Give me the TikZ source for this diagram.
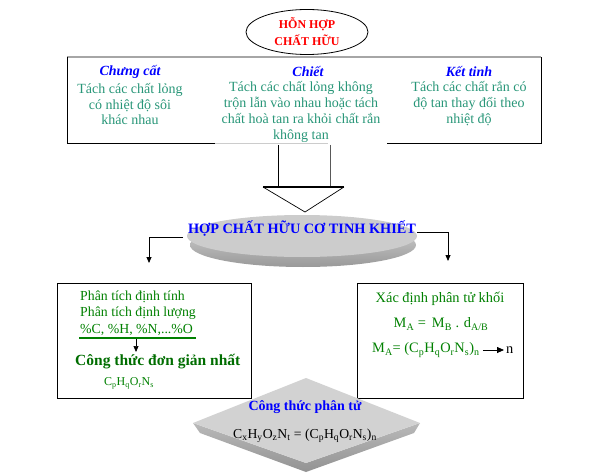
\documentclass[tikz,border=0pt]{standalone}
\usepackage{fontspec}
\setmainfont{Liberation Serif}
\usetikzlibrary{arrows.meta,shapes.geometric}
\definecolor{tealg}{RGB}{40,150,120}
\definecolor{dgreen}{RGB}{0,128,0}
\definecolor{hblue}{RGB}{0,0,255}
\definecolor{hred}{RGB}{255,0,0}
\tikzset{
  body/.style={font=\fontsize{14}{16}\selectfont, text=tealg, align=center, inner sep=0pt},
  headtxt/.style={font=\fontsize{14}{15}\selectfont\bfseries\itshape, text=hblue, inner sep=0pt},
  gtxt/.style={font=\fontsize{13.8}{15}\selectfont, text=dgreen, inner sep=0pt},
  rtxt/.style={font=\fontsize{14.4}{15}\selectfont, text=dgreen, inner sep=0pt},
  conn/.style={-{Triangle[length=6pt,width=5pt]}, line width=0.8pt},
  frame/.style={line width=1pt, black},
}
\begin{document}
\begin{tikzpicture}[x=1pt,y=-1pt]
\useasboundingbox (0,0) rectangle (605,476);
% top ellipse
\node[draw, ellipse, line width=0.8pt, minimum width=122pt, minimum height=45pt, inner sep=0pt,
  font=\fontsize{12}{17}\selectfont\bfseries, text=hred, align=center] (mix) at (307,32) {HỖN HỢP\\CHẤT HỮU};
% top frame
\draw[line width=1.6pt, gray!70] (67,57) -- (541,57);
\draw[frame] (67,57) -- (67,144) -- (215,144);
\draw[line width=1pt, gray!40] (215,144) -- (328,144);
\draw[frame] (387,144) -- (541,144) -- (541,57);
% headings
\node[headtxt] (h1) at (130,72) {Chưng cất};
\node[headtxt] (h2) at (308,72) {Chiết};
\node[headtxt] (h3) at (469,72) {Kết tinh};
\node[body] (b1) at (130,104) {Tách các chất lỏng\\có nhiệt độ sôi\\khác nhau};
\node[body] (b2) at (301,112) {Tách các chất lỏng không\\trộn lẫn vào nhau hoặc tách\\chất hoà tan ra khỏi chất rắn\\không tan};
\node[body] (b3) at (469,104) {Tách các chất rắn có\\độ tan thay đổi theo\\nhiệt độ};
% big hollow arrow
\coordinate (sl) at (278,145);
\coordinate (sr) at (330,145);
\coordinate (hl) at (263,187);
\coordinate (hr) at (344,187);
\coordinate (tip) at (305,212);
\draw[line width=1pt] (sl) -- (sl|-hl);
\draw[line width=1pt, gray!70!black] (sr) -- (sr|-hr);
\draw[line width=0.7pt] (hl) -- (tip) -- (hr);
\draw[line width=1.5pt] (hl) -- (hr);
% gray disc
\shade[top color=gray!35, bottom color=gray!80] (303,245) ellipse [x radius=113, y radius=22];
\fill[gray!40] (302,236) ellipse [x radius=115, y radius=21];
\node[font=\fontsize{14.3}{16}\selectfont\bfseries, text=hblue, inner sep=0pt] (pure) at (302,229) {HỢP CHẤT HỮU CƠ TINH KHIẾT};
% side arrows
\coordinate (la) at (183,237);
\coordinate (ra) at (417,232);
\coordinate (lt) at (149,263);
\coordinate (rt) at (448,261);
\draw[conn] (la) -- (la-|lt) -- (lt);
\draw[conn] (ra) -- (ra-|rt) -- (rt);
% left lower box
\draw[line width=0.9pt] (57,283) rectangle (251,398);
\node[gtxt, anchor=west] (p1) at (80,297) {Phân tích định tính};
\node[gtxt, anchor=west] (p2) at (80,313) {Phân tích định lượng};
\node[gtxt, anchor=west] (p3) at (80,330) {\%C, \%H, \%N,...\%O};
\draw[dgreen, line width=1.3pt] (79,338) -- (196,338);
\coordinate (a1) at (136,339);
\coordinate (a2) at (136,352);
\draw[conn, line width=0.7pt] (a1) -- (a2);
\node[font=\fontsize{15.5}{18}\selectfont\bfseries, text=dgreen!85!black, inner sep=0pt, anchor=west] (simple) at (75,362) {Công thức đơn giản nhất};
\node[gtxt, font=\fontsize{12}{15}\selectfont, anchor=west] (cf) at (104,383) {C\textsubscript{p}H\textsubscript{q}O\textsubscript{r}N\textsubscript{s}};
% right lower box
\draw[line width=0.9pt] (357,283) rectangle (523,398);
\node[rtxt] (x1) at (440,299) {Xác định phân tử khối};
\node[rtxt] (x2) at (441,324) {M\textsubscript{A} =\, M\textsubscript{B} . d\textsubscript{A/B}};
\node[rtxt, anchor=west] (x3) at (372,350) {M\textsubscript{A}= (C\textsubscript{p}H\textsubscript{q}O\textsubscript{r}N\textsubscript{s})\textsubscript{n}};
\node[rtxt, anchor=west, text=black] (nn) at (506,350) {n};
\draw[conn, line width=0.8pt, -{Triangle[length=7pt,width=6pt]}] ([xshift=3pt]x3.east) -- ([xshift=-2pt]nn.west);
% diamond
\shade[top color=gray!55, bottom color=gray!85] (193,423) -- (200,433) -- (306,472) -- (414,433) -- (420,423) -- (306,463) -- cycle;
\fill[gray!35] (306,378) -- (420,423) -- (306,463) -- (193,423) -- cycle;
\node[font=\fontsize{14}{15}\selectfont\bfseries, text=hblue, inner sep=0pt] (mol) at (305,407) {Công thức phân tử};
\node[font=\fontsize{13.7}{15}\selectfont, inner sep=0pt] (mf) at (305,436) {C\textsubscript{x}H\textsubscript{y}O\textsubscript{z}N\textsubscript{t} = (C\textsubscript{p}H\textsubscript{q}O\textsubscript{r}N\textsubscript{s})\textsubscript{n}};
\end{tikzpicture}
\end{document}
